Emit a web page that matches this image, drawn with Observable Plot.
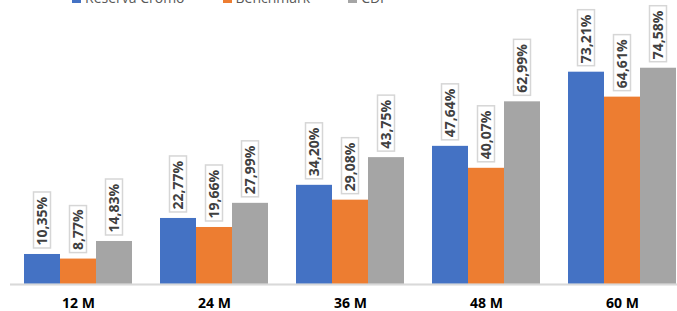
<!DOCTYPE html>
<html>
<head>
<meta charset="utf-8">
<script src="https://cdn.jsdelivr.net/npm/d3@7"></script>
<script src="https://cdn.jsdelivr.net/npm/@observablehq/plot@0.6"></script>
<style>
  html, body { margin: 0; padding: 0; background: #fff; overflow: hidden; }
  #wrap { position: relative; width: 677px; height: 311px; overflow: hidden; }
  #legend { position: absolute; top: -10px; left: 72px; display: flex; font-family: "Open Sans", sans-serif; font-size: 14px; line-height: 16px; color: #595959; white-space: nowrap; }
  #legend .item { display: flex; align-items: flex-end; margin-right: 38px; }
  #legend .sw { width: 9px; height: 9px; margin-right: 4px; margin-bottom: 3px; }
  #chart svg { display: block; }
</style>
</head>
<body>
<div id="wrap">
  <div id="chart"></div>
  <div id="legend"></div>
</div>
<script>
const periods = ["12 M", "24 M", "36 M", "48 M", "60 M"];
const seriesNames = ["Reserva Cromo", "Benchmark", "CDI"];
const seriesColors = ["#4472C4", "#ED7D31", "#A5A5A5"];
const reservaCromo = [10.35, 22.77, 34.20, 47.64, 73.21];
const benchmark = [8.77, 19.66, 29.08, 40.07, 64.61];
const cdi = [14.83, 27.99, 43.75, 62.99, 74.58];

const valuesBySeries = [reservaCromo, benchmark, cdi];
const data = [];
periods.forEach((p, i) => {
  seriesNames.forEach((s, j) => {
    const v = valuesBySeries[j][i];
    data.push({period: p, series: s, value: v, label: v.toFixed(2).replace(".", ",") + "%"});
  });
});

const chart = Plot.plot({
  width: 677,
  height: 311,
  marginTop: 52,
  marginBottom: 27,
  marginLeft: 10,
  marginRight: -13,
  style: {fontFamily: "Open Sans, sans-serif", fontSize: "14px", fontWeight: "bold", color: "#000", background: "#fff"},
  facet: {data, x: "period"},
  fx: {domain: periods, paddingInner: 0.19, paddingOuter: 0.095, label: null, tickSize: 0, tickPadding: 14, axis: "bottom"},
  x: {domain: seriesNames, padding: 0, axis: null},
  y: {domain: [0, 80], axis: null},
  color: {domain: seriesNames, range: seriesColors},
  marks: [
    Plot.barY(data, {x: "series", y: "value", fill: "series"}),
    Plot.ruleY(data, {y: () => 0, stroke: "#d9d9d9", strokeWidth: 1.5, insetLeft: -13, insetRight: -13}),
    Plot.barY(data, {filter: d => d.label.length >= 6, x: "series", y1: "value", y2: "value", fill: "#fff", stroke: "#d6d6d6", strokeWidth: 1.5, insetTop: -62, insetBottom: 6, insetLeft: 9.5, insetRight: 9.5}),
    Plot.barY(data, {filter: d => d.label.length < 6, x: "series", y1: "value", y2: "value", fill: "#fff", stroke: "#d6d6d6", strokeWidth: 1.5, insetTop: -53, insetBottom: 6, insetLeft: 9.5, insetRight: 9.5}),
    Plot.text(data, {x: "series", y: "value", text: "label", rotate: -90, textAnchor: "start", lineAnchor: "middle", dy: -9, fill: "#404040", fontSize: 14, fontWeight: "bold"})
  ]
});
document.getElementById("chart").appendChild(chart);

const legend = document.getElementById("legend");
seriesNames.forEach((s, j) => {
  const item = document.createElement("div");
  item.className = "item";
  const sw = document.createElement("div");
  sw.className = "sw";
  sw.style.background = seriesColors[j];
  const t = document.createElement("span");
  t.textContent = s;
  item.appendChild(sw);
  item.appendChild(t);
  legend.appendChild(item);
});
</script>
</body>
</html>
